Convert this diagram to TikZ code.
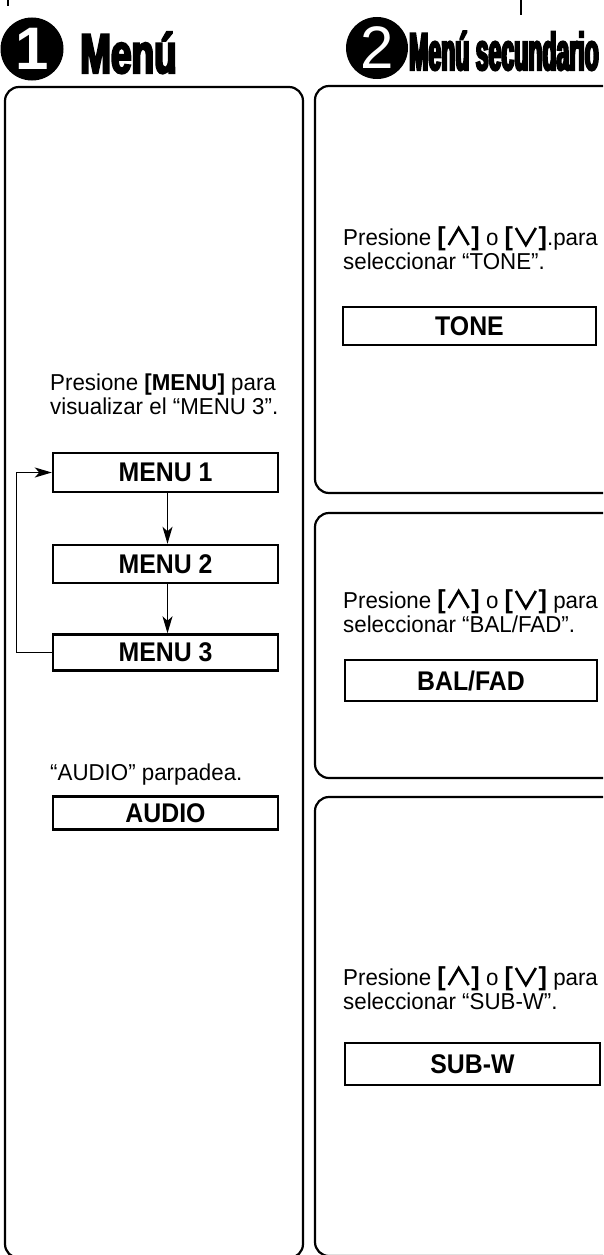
\documentclass[tikz,border=0pt]{standalone}
\usepackage{fontspec}
\setmainfont{Liberation Sans}
\newfontfamily\bodyf{Liberation Sans}[FakeStretch=0.97]
\newfontfamily\labf{Liberation Sans Bold}[FakeStretch=0.92]
\newfontface\hfA{Liberation Sans Bold}[FakeStretch=0.66,FakeBold=4]
\newfontface\hfB{Liberation Sans Bold}[FakeStretch=0.435,FakeBold=4]
\usetikzlibrary{arrows.meta}
\newcommand\chevup{\tikz[x=1pt,y=1pt,baseline=0pt]\draw[line width=2.6pt,line join=miter] (0,0) -- (10,17) -- (20,0);}
\newcommand\chevdn{\tikz[x=1pt,y=1pt,baseline=0pt]\draw[line width=2.6pt,line join=miter] (0,17) -- (10,0) -- (20,17);}
\newcommand\brk[1]{{\bfseries\fontsize{26}{26}\selectfont #1}}
\newcommand\kup{\brk{[}\kern1.5pt\chevup\kern1.5pt\brk{]}}
\newcommand\kdn{\brk{[}\kern1.5pt\chevdn\kern1.5pt\brk{]}}
\begin{document}
\begin{tikzpicture}[x=1pt,y=-1pt,
  panel/.style={draw, line width=2.2pt, rounded corners=14pt},
  lbox/.style={draw, line width=2.4pt, minimum width=225pt, inner sep=0pt, font=\labf\fontsize{27}{30}\selectfont},
  rbox/.style={lbox, minimum width=253pt},
  body/.style={anchor=base west, inner sep=0pt, font=\bodyf\fontsize{23}{26}\selectfont},
  conn/.style={line width=1.3pt, -{Stealth[length=17pt,width=10pt,inset=4.5pt]}},
  numt/.style={text=white, inner sep=0pt, font=\fontsize{60}{60}\selectfont},
  tick/.style={line width=1.5pt}
]
\useasboundingbox (0,0) rectangle (603,1255);
\clip (0,0) rectangle (603,1255);

% headers
\fill (32,49) circle (31.5);
\node[numt, font=\bfseries\fontsize{60}{60}\selectfont] (c1) at (32,49) {1};
\node[anchor=base west, inner sep=0pt, font=\hfA\fontsize{56}{56}\selectfont] (h1) at (80,73) {Menú};
\fill (377,48) circle (31);
\node[numt] (c2) at (377,48) {2};
\node[anchor=base west, inner sep=0pt, font=\hfB\fontsize{53}{53}\selectfont] (h2) at (409,70) {Menú secundario};
\draw[tick] (8,0) -- (8,6);
\draw[tick] (521,0) -- (521,15);

% panels
\draw[panel] (5,87) rectangle (303,1258);
\draw[panel] (315,86) rectangle (640,493);
\draw[panel] (315,513) rectangle (640,778);
\draw[panel] (315,797) rectangle (640,1256);

% left panel
\node[body] (t1) at (50,390) {Presione {\bfseries[MENU]} para};
\node[body] (t2) at (50,414) {visualizar el “MENU 3”.};
\node[lbox, minimum height=39pt] (m1) at (165.5,472.5) {MENU 1};
\node[lbox, minimum height=38pt] (m2) at (165.5,564) {MENU 2};
\node[lbox, minimum height=36pt] (m3) at (165.5,652.5) {MENU 3};
\draw[conn] ([xshift=2pt]m1.south) -- ([xshift=2pt]m2.north);
\draw[conn] ([xshift=2pt]m2.south) -- ([xshift=2pt]m3.north);
\draw[conn] (m3.west) -- ++(-35,0) |- (m1.west);
\node[body] (t3) at (50,780) {“AUDIO” parpadea.};
\node[lbox, minimum height=33pt] (au) at (165.5,813) {AUDIO};

% right panels
\node[body] (r1a) at (343,245) {Presione {\kup} o {\kdn}.para};
\node[body] (r1b) at (343,269) {seleccionar “TONE”.};
\node[rbox, minimum height=38pt] (tone) at (469.5,326) {TONE};

\node[body] (r2a) at (343,608) {Presione {\kup} o {\kdn} para};
\node[body] (r2b) at (343,632) {seleccionar “BAL/FAD”.};
\node[rbox, minimum height=41pt, minimum width=252pt] (bal) at (471,680.5) {BAL/FAD};

\node[body] (r3a) at (343,985) {Presione {\kup} o {\kdn} para};
\node[body] (r3b) at (343,1009) {seleccionar “SUB-W”.};
\node[rbox, minimum height=42pt, minimum width=255pt] (sub) at (472.5,1064) {SUB-W};
\end{tikzpicture}
\end{document}
